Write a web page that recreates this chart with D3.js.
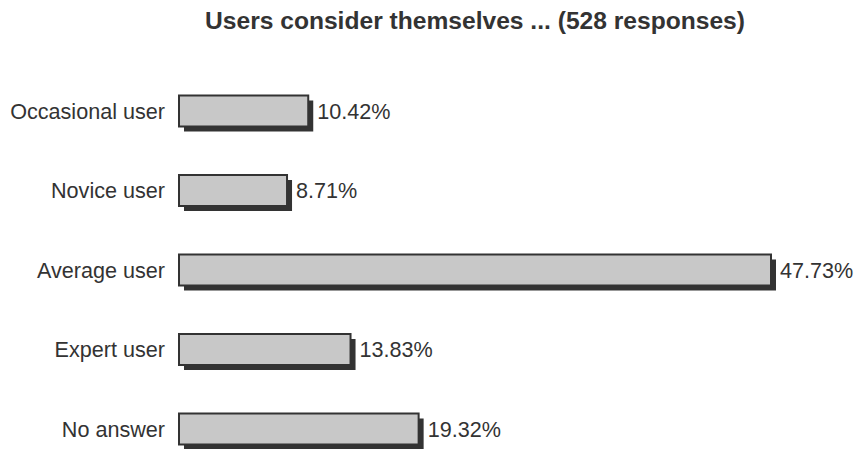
<!DOCTYPE html>
<html><head><meta charset="utf-8">
<script src="https://cdn.jsdelivr.net/npm/d3@7"></script>
<style>body{margin:0;background:#fff}svg{display:block}</style>
</head><body>
<script>
const categories = ["Occasional user","Novice user","Average user","Expert user","No answer"];
const values = [10.42, 8.71, 47.73, 13.83, 19.32];
const valueLabels = ["10.42%","8.71%","47.73%","13.83%","19.32%"];
const title = "Users consider themselves ... (528 responses)";

const W = 859, H = 449;
const svg = d3.select("body").append("svg").attr("width", W).attr("height", H);
const x = d3.scaleLinear().domain([0, 47.73]).range([179, 771]);
const y = d3.scalePoint().domain(categories).range([111, 429]);
const bh = 31, off = 5;
const font = "'Liberation Sans', Arial, sans-serif";

svg.append("text").attr("x", 475).attr("y", 29).attr("text-anchor","middle")
  .attr("font-family", font).attr("font-weight","bold").attr("font-size", 24.6)
  .attr("fill","#333").text(title);

const g = svg.append("g");
categories.forEach((c,i) => {
  const cy = y(c);
  g.append("rect").attr("x", x(0)+off).attr("y", cy-bh/2+off)
    .attr("width", x(values[i])-x(0)).attr("height", bh).attr("fill","#333");
  g.append("rect").attr("x", x(0)).attr("y", cy-bh/2)
    .attr("width", x(values[i])-x(0)).attr("height", bh)
    .attr("fill","#c8c8c8").attr("stroke","#333").attr("stroke-width",2);
  g.append("text").attr("x", 165).attr("y", cy).attr("dy","0.35em")
    .attr("text-anchor","end").attr("font-family", font).attr("font-size", 21.6)
    .attr("fill","#333").text(c);
  g.append("text").attr("x", x(values[i])+9).attr("y", cy).attr("dy","0.35em")
    .attr("font-family", font).attr("font-size", 21.6)
    .attr("fill","#333").text(valueLabels[i]);
});
</script>
</body></html>
